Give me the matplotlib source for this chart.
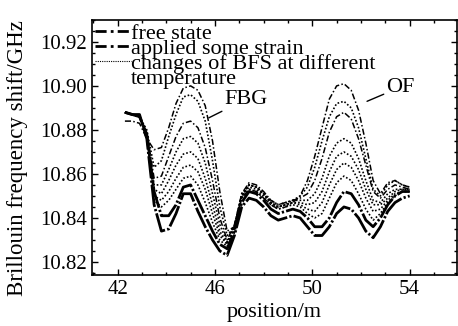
import matplotlib
matplotlib.use("Agg")
import matplotlib.pyplot as plt
from matplotlib.lines import Line2D
from matplotlib.ticker import MultipleLocator, FixedLocator

plt.rcParams['font.family'] = ['Liberation Serif', 'DejaVu Serif']

# positions along the fibre (m)
position = [42.3, 42.6, 42.9, 43.2, 43.5, 43.8, 44.1, 44.4, 44.7, 45.0,
            45.3, 45.6, 45.9, 46.2, 46.5, 46.8, 47.1, 47.4, 47.7, 48.0,
            48.3, 48.6, 48.9, 49.2, 49.5, 49.8, 50.1, 50.4, 50.7, 51.0,
            51.3, 51.6, 51.9, 52.2, 52.5, 52.8, 53.1, 53.4, 53.7, 54.0]

free_state = [10.888, 10.887, 10.887, 10.876, 10.846, 10.834, 10.835, 10.842, 10.851, 10.851,
              10.843, 10.836, 10.830, 10.825, 10.823, 10.832, 10.845, 10.849, 10.848, 10.845,
              10.841, 10.839, 10.840, 10.841, 10.840, 10.836, 10.832, 10.832, 10.836, 10.842,
              10.845, 10.844, 10.840, 10.834, 10.831, 10.836, 10.843, 10.847, 10.849, 10.850]

applied_strain = [10.888, 10.887, 10.886, 10.878, 10.852, 10.841, 10.841, 10.846, 10.854, 10.855,
                  10.848, 10.841, 10.834, 10.828, 10.826, 10.834, 10.847, 10.852, 10.851, 10.848,
                  10.844, 10.842, 10.843, 10.844, 10.843, 10.840, 10.836, 10.836, 10.840, 10.847,
                  10.852, 10.851, 10.846, 10.839, 10.836, 10.840, 10.846, 10.850, 10.852, 10.852]

# BFS at different temperatures
temp_1 = [10.888, 10.887, 10.886, 10.877, 10.848, 10.845, 10.848, 10.853, 10.858, 10.859,
          10.855, 10.847, 10.838, 10.830, 10.827, 10.835, 10.849, 10.853, 10.852, 10.849,
          10.846, 10.844, 10.845, 10.846, 10.845, 10.842, 10.840, 10.842, 10.849, 10.856,
          10.859, 10.857, 10.851, 10.844, 10.839, 10.842, 10.847, 10.850, 10.852, 10.852]
temp_2 = [10.888, 10.887, 10.886, 10.877, 10.850, 10.848, 10.852, 10.858, 10.863, 10.864,
          10.861, 10.853, 10.842, 10.832, 10.828, 10.836, 10.850, 10.854, 10.853, 10.850,
          10.847, 10.845, 10.846, 10.847, 10.846, 10.844, 10.843, 10.847, 10.855, 10.862,
          10.865, 10.863, 10.857, 10.849, 10.843, 10.844, 10.848, 10.851, 10.852, 10.852]
temp_3 = [10.888, 10.887, 10.886, 10.878, 10.853, 10.851, 10.857, 10.864, 10.869, 10.870,
          10.867, 10.858, 10.846, 10.834, 10.828, 10.836, 10.850, 10.855, 10.854, 10.851,
          10.847, 10.845, 10.846, 10.847, 10.847, 10.846, 10.847, 10.852, 10.861, 10.868,
          10.870, 10.868, 10.862, 10.853, 10.846, 10.846, 10.849, 10.852, 10.853, 10.853]
temp_4 = [10.888, 10.887, 10.886, 10.878, 10.855, 10.855, 10.862, 10.870, 10.876, 10.877,
          10.874, 10.865, 10.851, 10.837, 10.829, 10.836, 10.851, 10.855, 10.854, 10.851,
          10.848, 10.846, 10.847, 10.848, 10.848, 10.848, 10.851, 10.858, 10.868, 10.874,
          10.876, 10.874, 10.867, 10.857, 10.848, 10.847, 10.851, 10.853, 10.853, 10.853]
temp_5 = [10.888, 10.887, 10.886, 10.879, 10.858, 10.859, 10.868, 10.877, 10.883, 10.884,
          10.881, 10.872, 10.857, 10.840, 10.830, 10.837, 10.851, 10.856, 10.855, 10.852,
          10.848, 10.846, 10.847, 10.848, 10.849, 10.851, 10.857, 10.867, 10.879, 10.886,
          10.888, 10.885, 10.876, 10.864, 10.852, 10.849, 10.853, 10.855, 10.854, 10.853]
temp_6 = [10.888, 10.887, 10.886, 10.880, 10.863, 10.866, 10.877, 10.887, 10.895, 10.896,
          10.893, 10.884, 10.866, 10.845, 10.832, 10.836, 10.850, 10.855, 10.854, 10.851,
          10.847, 10.845, 10.846, 10.848, 10.850, 10.854, 10.863, 10.875, 10.886, 10.892,
          10.893, 10.890, 10.881, 10.867, 10.853, 10.850, 10.855, 10.857, 10.855, 10.854]
temp_7 = [10.884, 10.884, 10.883, 10.876, 10.871, 10.872, 10.881, 10.892, 10.899, 10.900,
          10.898, 10.891, 10.875, 10.852, 10.834, 10.836, 10.849, 10.853, 10.852, 10.849,
          10.846, 10.844, 10.845, 10.847, 10.850, 10.857, 10.868, 10.881, 10.894, 10.900,
          10.901, 10.898, 10.889, 10.874, 10.857, 10.851, 10.856, 10.857, 10.855, 10.854]

temp_curves = [temp_1, temp_2, temp_3, temp_4, temp_5, temp_6, temp_7]

x_ticks = [42, 46, 50, 54]

fig = plt.figure(figsize=(4.58, 3.26), dpi=100)
ax = fig.add_axes([0.201, 0.156, 0.797, 0.783])

heavy = (0, (8, 0.8, 0.8, 0.8))
for i, t in enumerate(temp_curves):
    if i in (4, 6):
        ax.plot(position, t, color='black', lw=1.1, linestyle=(0, (4, 1.5, 1, 1.5)))
    else:
        ax.plot(position, t, color='black', lw=1.2, linestyle=(0, (1, 1.2)))
ax.plot(position, applied_strain, color='black', lw=2.0, linestyle=heavy)
ax.plot(position, free_state, color='black', lw=2.0, linestyle=heavy)

ax.set_xlim(40.95, 55.95)
ax.set_ylim(10.814, 10.930)
ax.xaxis.set_major_locator(FixedLocator(x_ticks))
ax.xaxis.set_minor_locator(MultipleLocator(1))
ax.yaxis.set_major_locator(MultipleLocator(0.02))
ax.yaxis.set_minor_locator(MultipleLocator(0.005))
ax.tick_params(which='both', direction='in', top=True, right=True, labelsize=15, width=1)
ax.tick_params(which='major', length=4)
ax.tick_params(which='minor', length=2.5)
ax.yaxis.set_major_formatter(plt.FormatStrFormatter('%.2f'))
for s in ax.spines.values():
    s.set_linewidth(1.2)

ax.set_xlabel('position/m', fontsize=16, labelpad=3)
ax.set_ylabel('Brillouin frequency shift/GHz', fontsize=16.5)
ax.yaxis.set_label_coords(-0.175, 0.46)

handles = [Line2D([], [], color='black', lw=2, linestyle=(0, (4, 1.5, 1, 1.5))),
           Line2D([], [], color='black', lw=2, linestyle=(0, (4, 1.5, 1, 1.5))),
           Line2D([], [], color='black', lw=0.8, linestyle=(0, (1, 1))),
           Line2D([], [], linestyle='none')]
labels = ['free state', 'applied some strain', 'changes of BFS at different', 'temperature']
ax.legend(handles, labels, loc='upper left', bbox_to_anchor=(0.0, 1.0), frameon=False,
          fontsize=16, handlelength=1.6, handletextpad=0.0, labelspacing=-0.25,
          borderpad=0.0, borderaxespad=0.15)

ax.annotate('FBG', xy=(45.75, 10.8855), xytext=(46.4, 10.894), fontsize=16,
            ha='left', va='center', arrowprops=dict(arrowstyle='-', color='black', lw=1,
                                                    shrinkA=0, shrinkB=0))
ax.annotate('OF', xy=(52.25, 10.893), xytext=(53.05, 10.8995), fontsize=16,
            ha='left', va='center', arrowprops=dict(arrowstyle='-', color='black', lw=1,
                                                    shrinkA=0, shrinkB=0))

fig.savefig('out.png', dpi=100)
